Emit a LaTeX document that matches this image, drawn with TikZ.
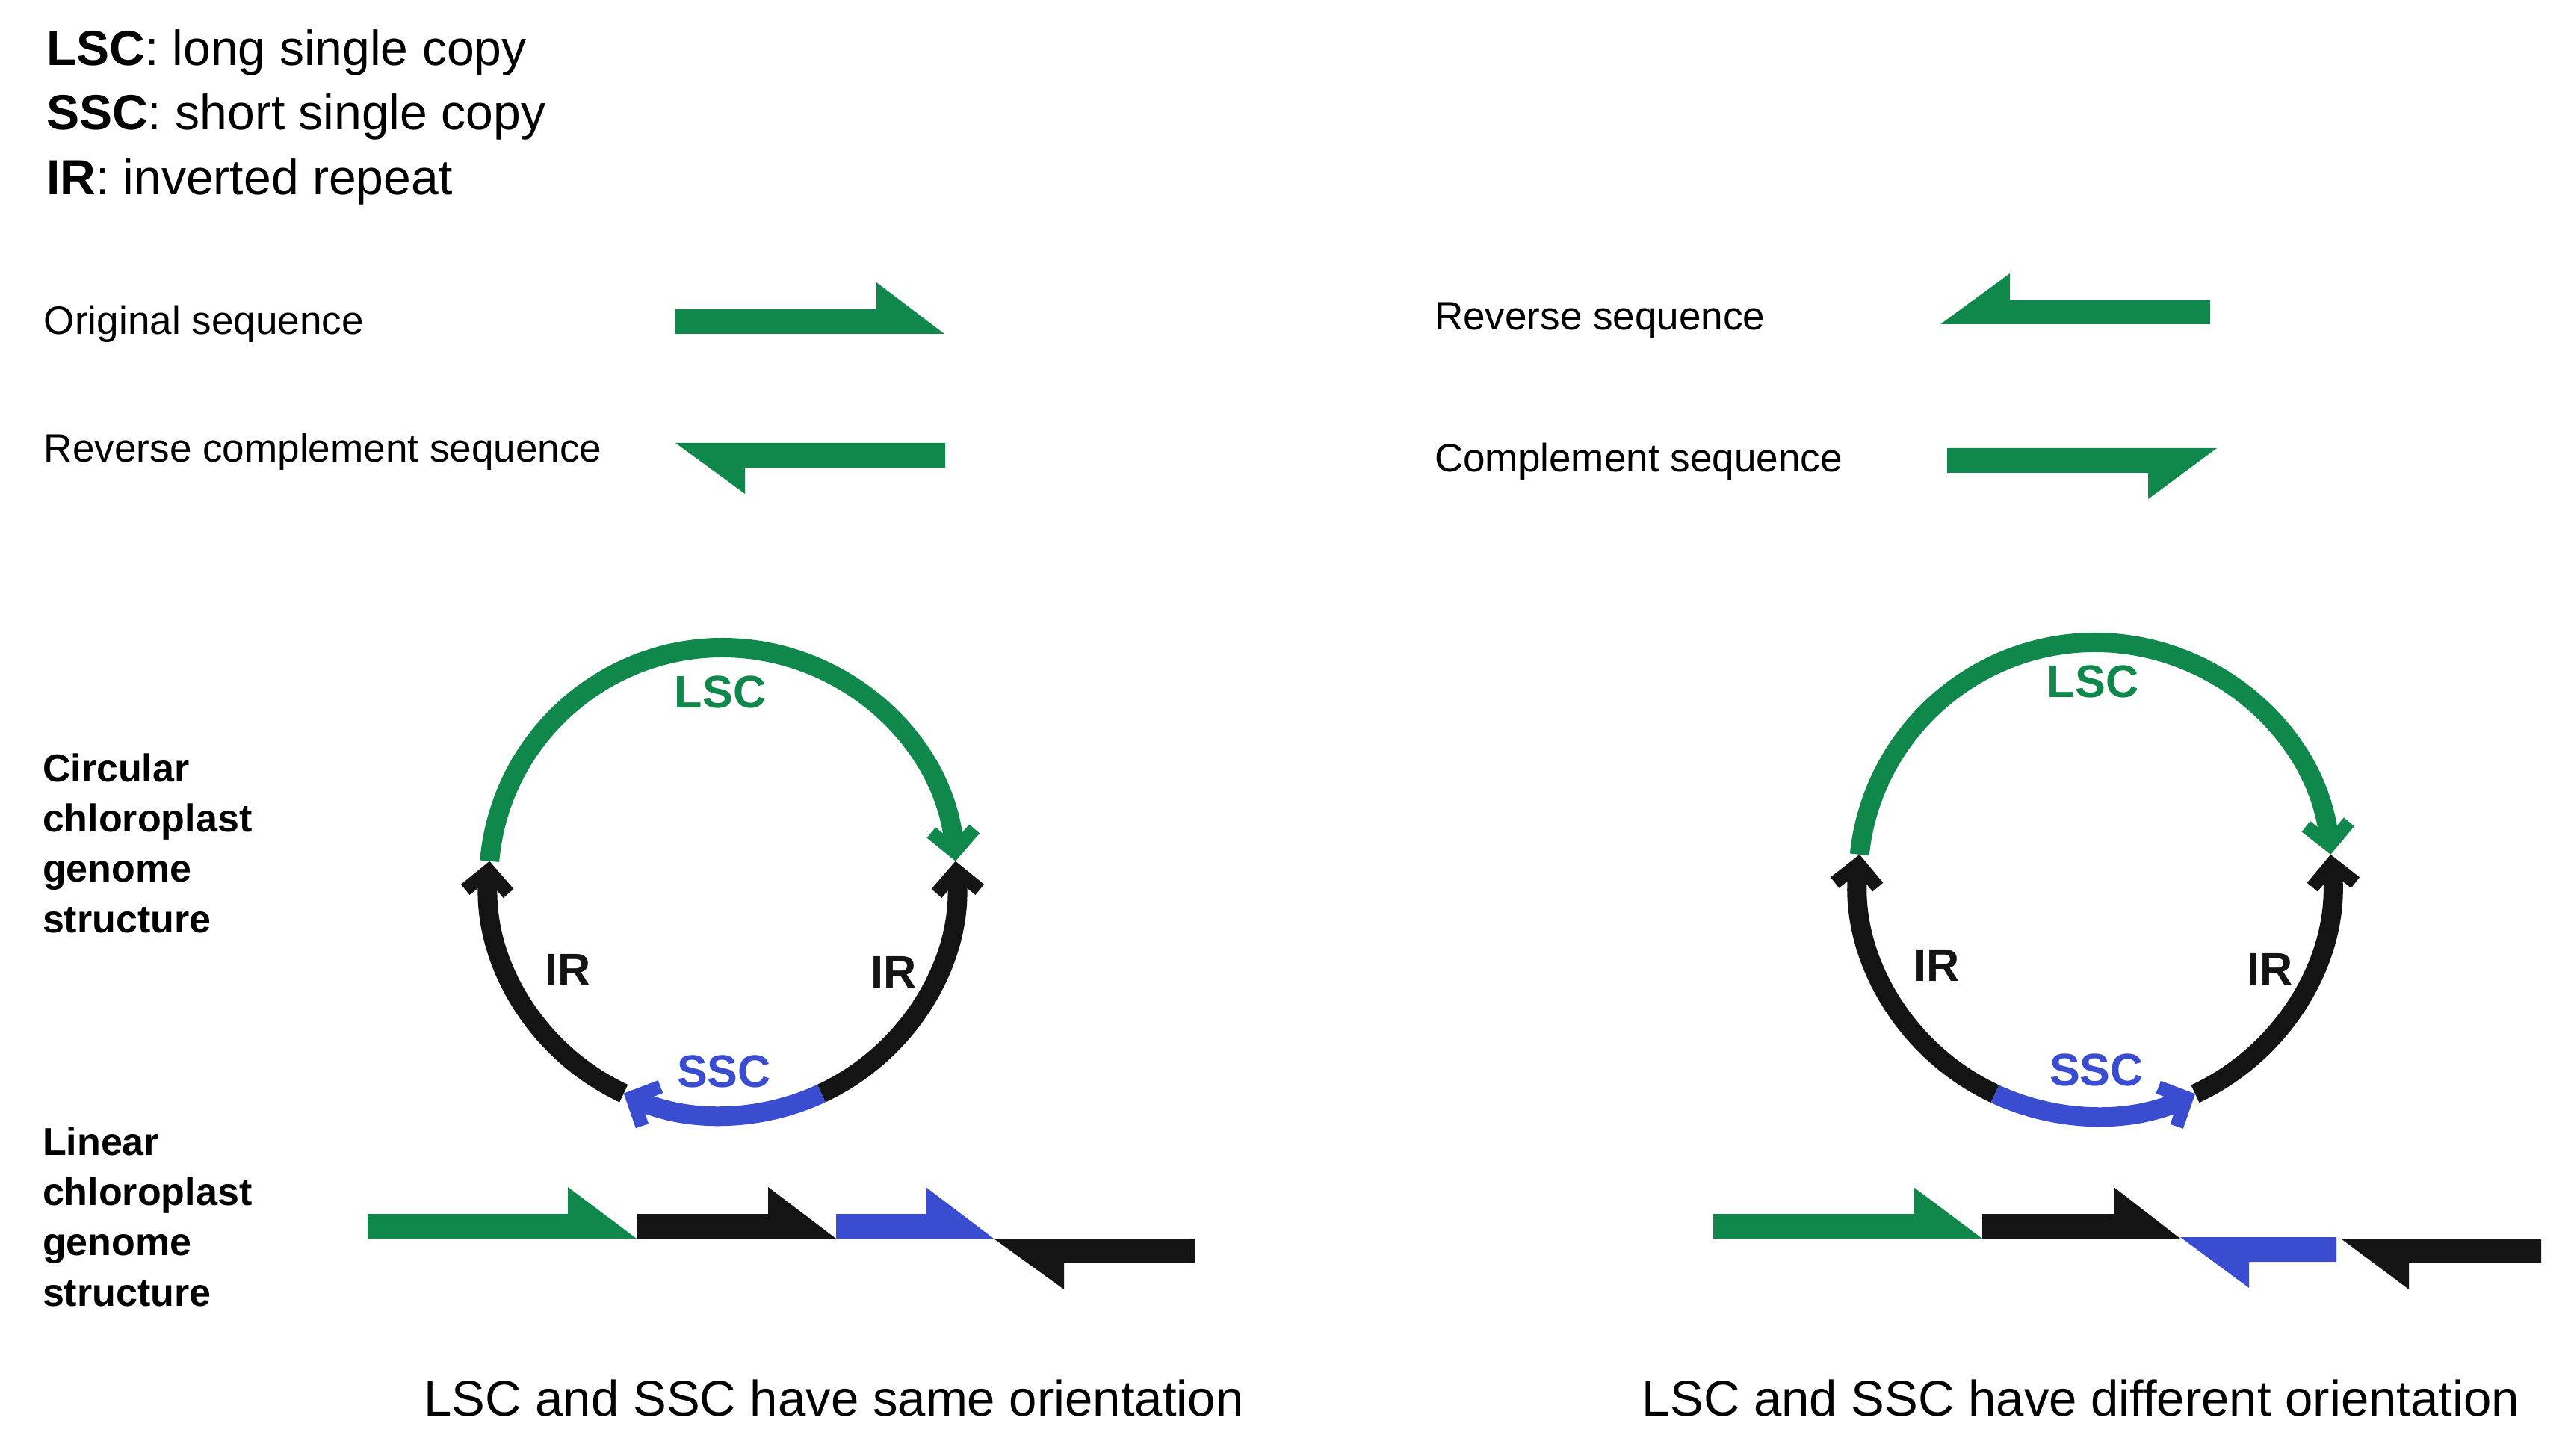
\documentclass[tikz,border=0pt]{standalone}
\usepackage{fontspec}
\setmainfont{Liberation Sans}
\usepackage{tikz}
\usetikzlibrary{arrows.meta}
\usepackage{xcolor}
\definecolor{cpgreen}{HTML}{10874B}
\definecolor{cpblue}{HTML}{3A4DD0}
\definecolor{cpblack}{HTML}{141414}

\begin{document}
\begin{tikzpicture}[
  every node/.style={inner sep=0pt, outer sep=0pt},
  legendtext/.style={
    font=\fontsize{18.8}{24.5}\selectfont,
    align=left,
    anchor=north west
  },
  seqlabel/.style={
    font=\fontsize{15.1}{18}\selectfont,
    anchor=base west
  },
  sidelabel/.style={
    font=\fontsize{14.8}{19.1}\selectfont\bfseries,
    align=left,
    anchor=north west
  },
  captiontext/.style={
    font=\fontsize{19.1}{22}\selectfont,
    anchor=base
  },
  ringlabel/.style={
    font=\fontsize{17.4}{20}\selectfont\bfseries
  },
  greenseg/.style={fill=cpgreen},
  blackseg/.style={fill=cpblack},
  blueseg/.style={fill=cpblue},
  ringarc/.style={
    line width=7.4pt,
    -{Straight Barb[length=8pt, width=16.5pt, line width=5.2pt]}
  }
]

  \path[use as bounding box, fill=white] (0,0) rectangle (34.45,19.48);

  % =========================================================================
  % LEGEND AND SEQUENCE KEY
  % =========================================================================
  \node[legendtext] (legend) at (0.62,19.08) {
    \textbf{LSC}: long single copy\\
    \textbf{SSC}: short single copy\\
    \textbf{IR}: inverted repeat
  };

  \node[seqlabel] (origlabel) at (0.59,15.00) {Original sequence};
  \node[seqlabel] (rclabel) at (0.59,13.29) {Reverse complement sequence};
  \node[seqlabel] (revlabel) at (19.20,15.06) {Reverse sequence};
  \node[seqlabel] (complabel) at (19.20,13.16) {Complement sequence};

  \fill[greenseg] (9.04,15.01) -- (9.04,15.34) -- (11.73,15.34) -- (11.73,15.70) -- (12.64,15.01) -- cycle;
  \fill[greenseg] (9.04,13.55) -- (12.65,13.55) -- (12.65,13.22) -- (9.97,13.22) -- (9.97,12.87) -- cycle;
  \fill[greenseg] (25.97,15.14) -- (26.90,15.82) -- (26.90,15.46) -- (29.58,15.46) -- (29.58,15.14) -- cycle;
  \fill[greenseg] (26.06,13.48) -- (29.67,13.48) -- (28.75,12.80) -- (28.75,13.15) -- (26.06,13.15) -- cycle;

  % =========================================================================
  % CIRCULAR STRUCTURE
  % =========================================================================
  \node[sidelabel] (circlabel) at (0.57,9.39) {Circular\\chloroplast\\genome\\structure};

  \coordinate (lring) at (9.67,7.68);
  \coordinate (rring) at (28.04,7.71);

  % same orientation
  \draw[ringarc, draw=cpgreen] ([shift={(175:3.13)}]lring) arc[start angle=175, end angle=5, radius=3.13];
  \draw[ringarc, draw=cpblack] ([shift={(-115:3.13)}]lring) arc[start angle=-115, end angle=-185, radius=3.13];
  \draw[ringarc, draw=cpblack] ([shift={(-65:3.13)}]lring) arc[start angle=-65, end angle=5, radius=3.13];
  \draw[ringarc, draw=cpblue] ([shift={(-65:3.13)}]lring) arc[start angle=-65, end angle=-115, radius=3.13];

  \node[ringlabel, text=cpgreen] (llsc) at (9.64,10.22) {LSC};
  \node[ringlabel, text=cpblack] (lirleft) at (7.60,6.50) {IR};
  \node[ringlabel, text=cpblack] (lirright) at (11.96,6.47) {IR};
  \node[ringlabel, text=cpblue] (lssc) at (9.69,5.14) {SSC};

  % different orientation
  \draw[ringarc, draw=cpgreen] ([shift={(174:3.17)}]rring) arc[start angle=174, end angle=6, radius=3.17];
  \draw[ringarc, draw=cpblack] ([shift={(-115:3.17)}]rring) arc[start angle=-115, end angle=-186, radius=3.17];
  \draw[ringarc, draw=cpblack] ([shift={(-65:3.17)}]rring) arc[start angle=-65, end angle=6, radius=3.17];
  \draw[ringarc, draw=cpblue] ([shift={(-115:3.17)}]rring) arc[start angle=-115, end angle=-65, radius=3.17];

  \node[ringlabel, text=cpgreen] (rlsc) at (28.01,10.36) {LSC};
  \node[ringlabel, text=cpblack] (rirleft) at (25.92,6.56) {IR};
  \node[ringlabel, text=cpblack] (rirright) at (30.38,6.51) {IR};
  \node[ringlabel, text=cpblue] (rssc) at (28.06,5.16) {SSC};

  % =========================================================================
  % LINEAR STRUCTURE
  % =========================================================================
  \node[sidelabel] (linlabel) at (0.57,4.39) {Linear\\chloroplast\\genome\\structure};

  % same orientation
  \fill[greenseg] (4.92,2.90) -- (4.92,3.23) -- (7.60,3.23) -- (7.60,3.59) -- (8.52,2.90) -- cycle;
  \fill[blackseg] (8.52,2.90) -- (8.52,3.23) -- (10.28,3.23) -- (10.28,3.59) -- (11.19,2.90) -- cycle;
  \fill[blueseg] (11.19,2.90) -- (11.19,3.23) -- (12.39,3.23) -- (12.39,3.59) -- (13.30,2.90) -- cycle;
  \fill[blackseg] (13.30,2.90) -- (15.99,2.90) -- (15.99,2.58) -- (14.24,2.58) -- (14.24,2.22) -- cycle;

  % different orientation
  \fill[greenseg] (22.93,2.90) -- (22.93,3.23) -- (25.61,3.23) -- (25.61,3.59) -- (26.53,2.90) -- cycle;
  \fill[blackseg] (26.53,2.90) -- (26.53,3.23) -- (28.29,3.23) -- (28.29,3.59) -- (29.18,2.90) -- cycle;
  \fill[blueseg] (29.18,2.92) -- (31.27,2.92) -- (31.27,2.59) -- (30.10,2.59) -- (30.10,2.24) -- cycle;
  \fill[blackseg] (31.33,2.90) -- (34.01,2.90) -- (34.01,2.58) -- (32.24,2.58) -- (32.24,2.22) -- cycle;

  \node[captiontext] (capsame) at (11.16,0.53) {LSC and SSC have same orientation};
  \node[captiontext] (capdiff) at (27.85,0.53) {LSC and SSC have different orientation};

\end{tikzpicture}
\end{document}
